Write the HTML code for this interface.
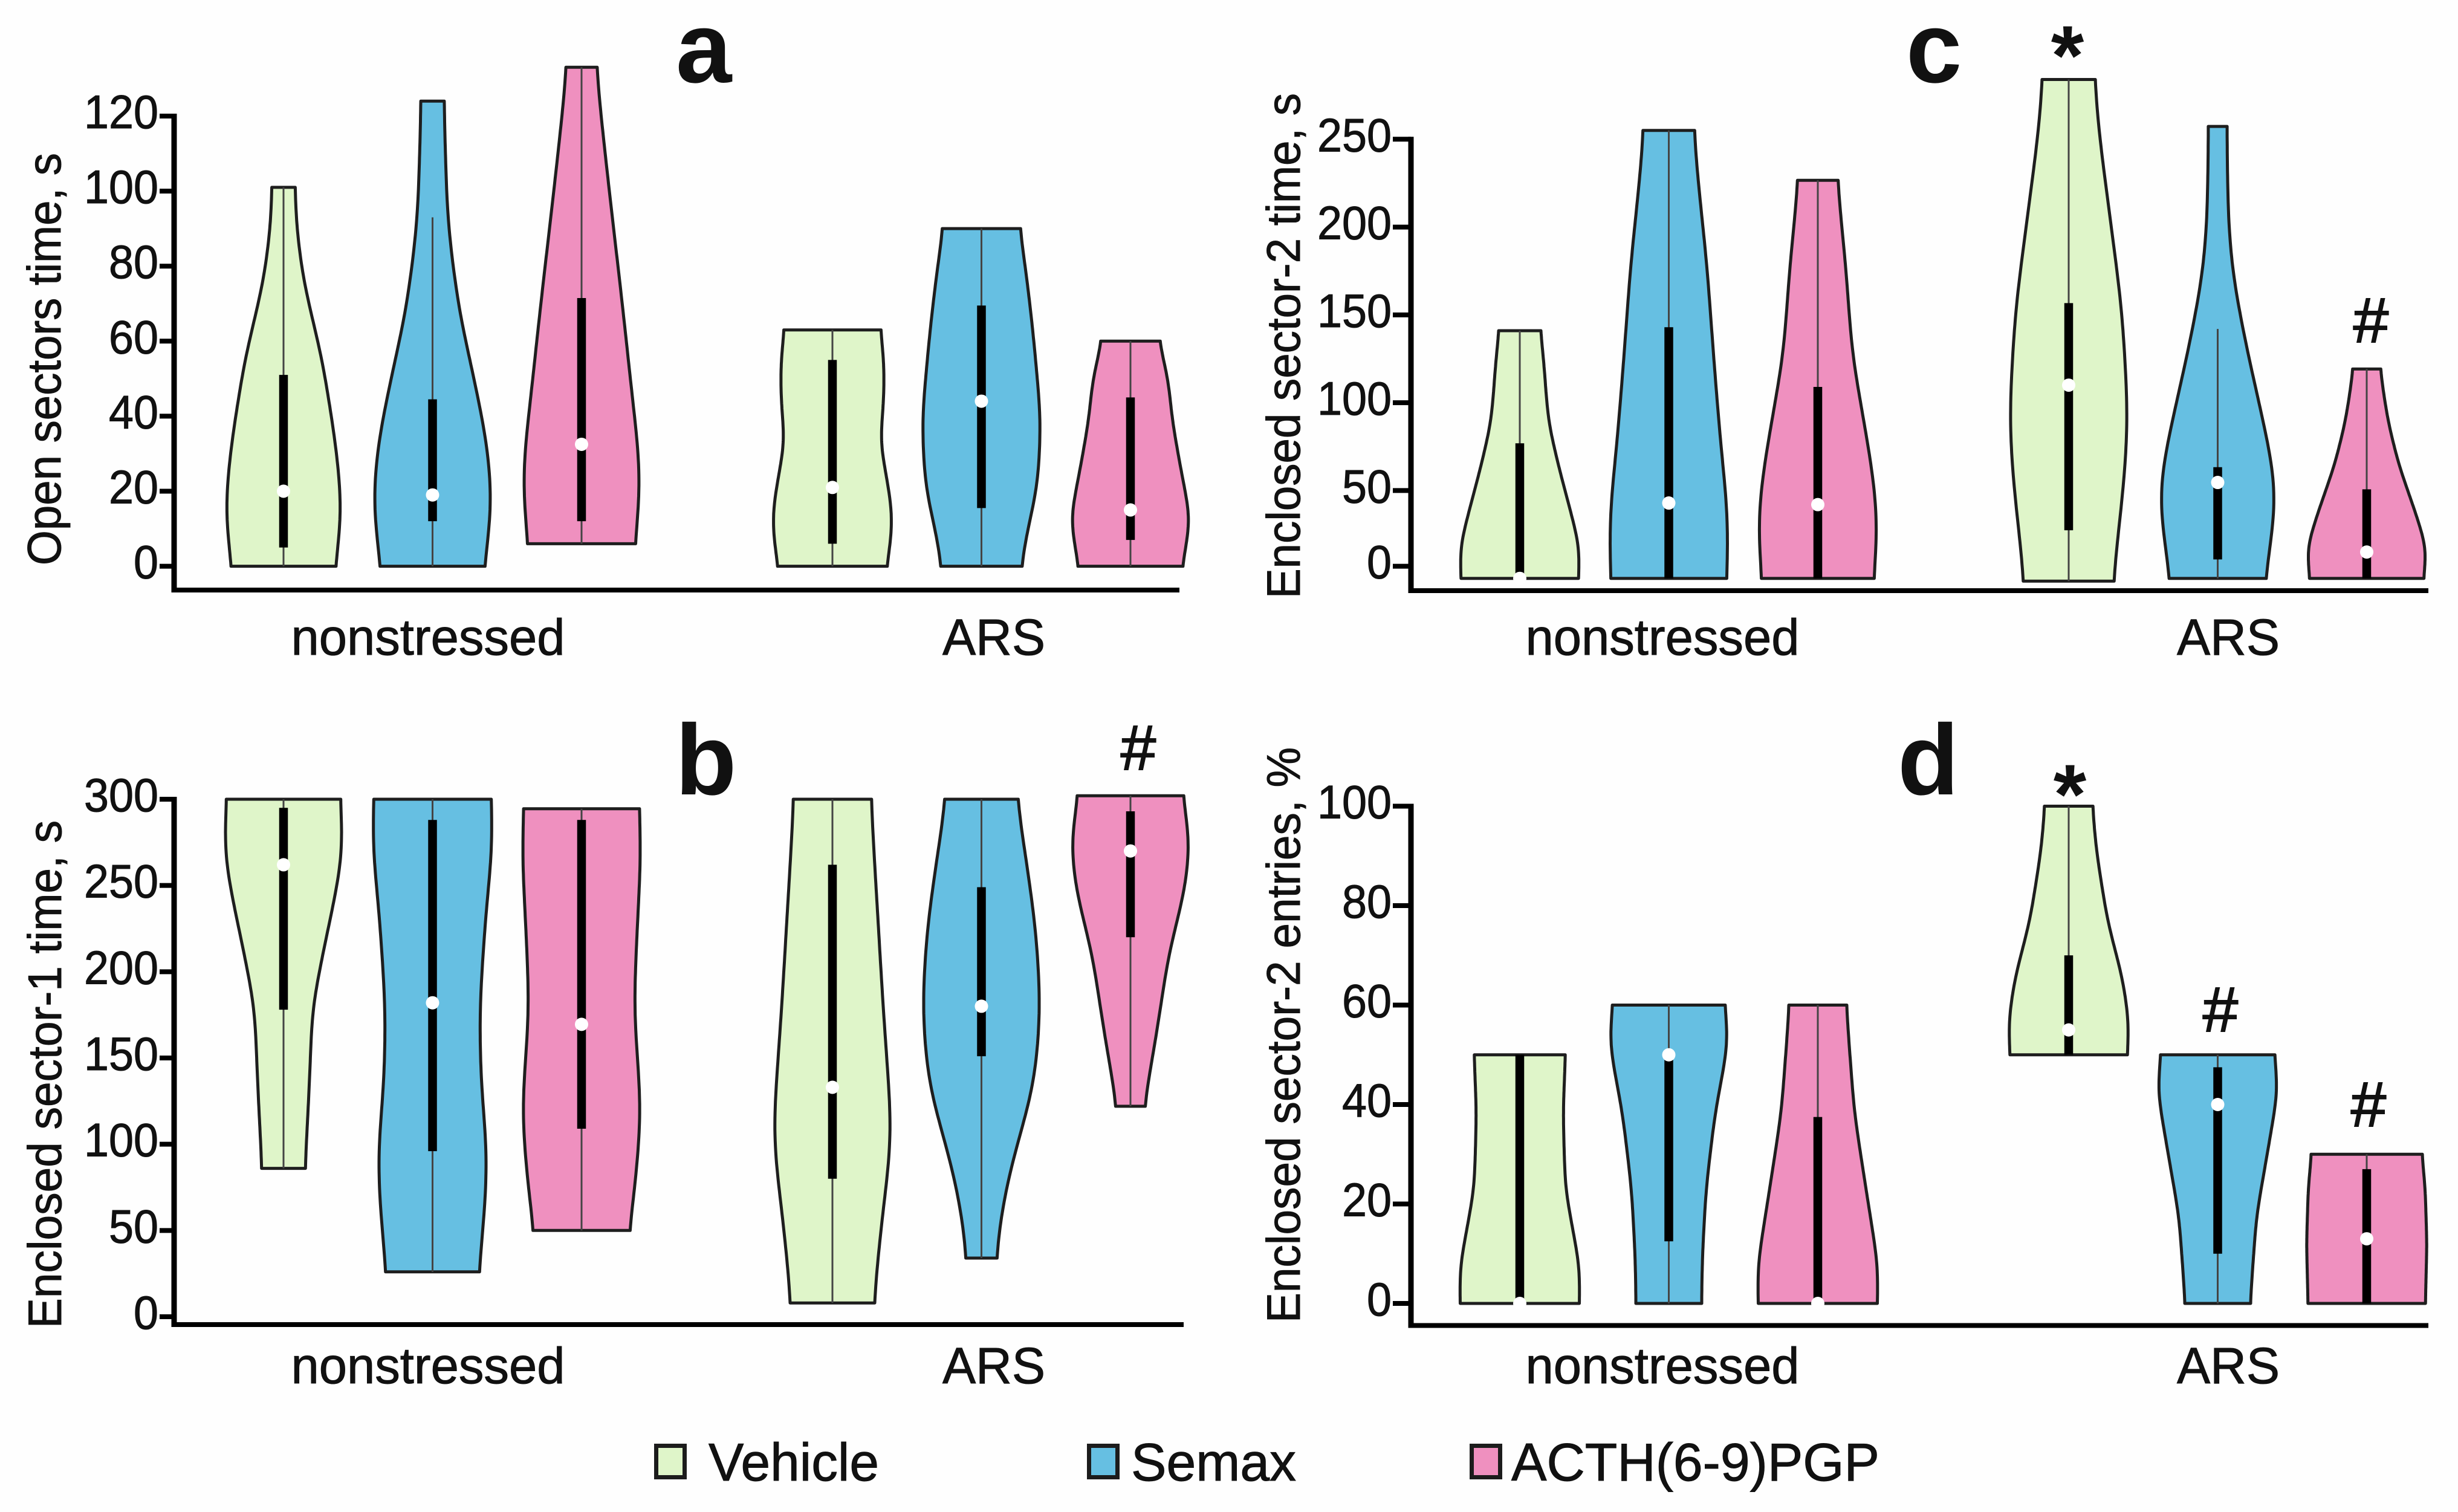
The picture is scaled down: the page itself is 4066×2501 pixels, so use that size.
<!DOCTYPE html>
<html lang="en">
<head>
<meta charset="utf-8">
<title>Violin plots</title>
<style>
html,body{margin:0;padding:0;background:#fefefe;}
svg{display:block;font-family:"Liberation Sans",sans-serif;fill:#111;}
</style>
</head>
<body>
<svg id="chart" xmlns="http://www.w3.org/2000/svg" width="4066" height="2501" viewBox="0 0 4066 2501">
  <rect width="4066" height="2501" fill="#fefefe"/>

  <text x="1118" y="136" font-size="166" font-weight="bold">a</text>
  <text x="1117" y="1314" font-size="166" font-weight="bold">b</text>
  <text x="3153" y="136" font-size="166" font-weight="bold">c</text>
  <text x="3139" y="1314" font-size="166" font-weight="bold">d</text>

  <text transform="translate(100 935) rotate(-90)" font-size="78" textLength="682" lengthAdjust="spacingAndGlyphs" stroke="#111" stroke-width="1">Open sectors time, s</text>
  <text transform="translate(101 2197) rotate(-90)" font-size="78" textLength="840" lengthAdjust="spacingAndGlyphs" stroke="#111" stroke-width="1">Enclosed sector-1 time, s</text>
  <text transform="translate(2150 990) rotate(-90)" font-size="78" textLength="836" lengthAdjust="spacingAndGlyphs" stroke="#111" stroke-width="1">Enclosed sector-2 time, s</text>
  <text transform="translate(2150 2188) rotate(-90)" font-size="78" textLength="952" lengthAdjust="spacingAndGlyphs" stroke="#111" stroke-width="1">Enclosed sector-2 entries, %</text>

  <text x="3420" y="140" font-size="140" font-weight="bold" text-anchor="middle">*</text>
  <text x="3424" y="1362" font-size="140" font-weight="bold" text-anchor="middle">*</text>
  <text x="3922" y="566" font-size="105" text-anchor="middle" stroke="#111" stroke-width="2">#</text>
  <text x="1883" y="1273" font-size="105" text-anchor="middle" stroke="#111" stroke-width="2">#</text>
  <text x="3673" y="1706" font-size="105" text-anchor="middle" stroke="#111" stroke-width="2">#</text>
  <text x="3918" y="1863" font-size="105" text-anchor="middle" stroke="#111" stroke-width="2">#</text>

  <g>
    <g>
      <rect x="1085.5" y="2391.5" width="47" height="52" fill="#dff5c9" stroke="#1c1c1c" stroke-width="7"/>
      <text x="1172" y="2449" font-size="88" textLength="282" lengthAdjust="spacingAndGlyphs" stroke="#111" stroke-width="1">Vehicle</text>
    </g>
    <g>
      <rect x="1801.5" y="2391.5" width="47" height="52" fill="#66bfe2" stroke="#1c1c1c" stroke-width="7"/>
      <text x="1871" y="2449" font-size="88" textLength="273" lengthAdjust="spacingAndGlyphs" stroke="#111" stroke-width="1">Semax</text>
    </g>
    <g>
      <rect x="2434.5" y="2391.5" width="47" height="52" fill="#ef90bf" stroke="#1c1c1c" stroke-width="7"/>
      <text x="2500" y="2449" font-size="88" textLength="609" lengthAdjust="spacingAndGlyphs" stroke="#111" stroke-width="1">ACTH(6-9)PGP</text>
    </g>
  </g>
</svg>
<script>
// Shared categories
const groupLabels = ['nonstressed', 'ARS'];
const seriesNames = ['vehicle', 'semax', 'acth'];
const seriesColors = ['#dff5c9', '#66bfe2', '#ef90bf'];

// Panel a: Open sectors time, s
const aTicks = [0, 20, 40, 60, 80, 100, 120];
const aLevels = [
  [101, 90, 75, 56, 33, 17, 8, 0],
  [124, 92, 68, 50, 33, 18.5, 9, 0],
  [133, 104, 68, 44.5, 27, 17, 6],
  [63, 55, 45, 33, 22, 14, 6, 0],
  [90, 80, 62, 39, 21, 9, 0],
  [60, 50, 39, 27, 13, 5.5, 0]
];
const aDensity = [
  [15, 17, 27, 50, 68, 76, 74, 67],
  [15, 20, 35, 55, 72, 79, 76, 67],
  [20, 35, 55, 67, 77, 77, 69],
  [62, 67, 67, 62, 72, 78, 76, 70],
  [50, 58, 68, 78, 74, 60, 52],
  [38, 50, 55, 65, 78, 73, 67]
];
const aQ1 = [5, 12, 12, 6, 15.5, 7];
const aMedian = [20, 19, 32.5, 21, 44, 15];
const aQ3 = [51, 44.5, 71.5, 55, 69.5, 45];
const aWhiskerLow = [0, 0, 6, 0, 0, 0];
const aWhiskerHigh = [101, 93, 133, 63, 90, 60];

// Panel b: Enclosed sector-1 time, s
const bTicks = [0, 50, 100, 150, 200, 250, 300];
const bLevels = [
  [300, 270, 240, 224, 179, 149, 119, 86],
  [300, 276, 240, 179, 134, 95, 58, 26],
  [294.5, 270, 224.5, 179, 119, 73, 50],
  [300, 240, 179, 104, 58, 8],
  [300, 270, 224.5, 179, 134, 88.5, 58, 34],
  [302, 276, 249, 209, 164, 122]
];
const bDensity = [
  [73, 77, 65, 57, 37, 35, 32, 28],
  [75, 79, 70, 61, 63, 72, 68, 60],
  [74, 77, 72, 68, 78, 70, 62],
  [50, 58, 66, 78, 65, 54],
  [47, 58, 72, 78, 70, 40, 26, 20],
  [68, 78, 72, 50, 35, 19]
];
const bQ1 = [178, 96, 109, 80, 151, 220];
const bMedian = [262, 182, 169.5, 133, 180, 270];
const bQ3 = [295, 288, 288, 262, 249, 293];
const bWhiskerLow = [86, 26, 50, 8, 34, 122];
const bWhiskerHigh = [300, 300, 294.5, 300, 300, 302];

// Panel c: Enclosed sector-2 time, s
const cTicks = [0, 50, 100, 150, 200, 250];
const cLevels = [
  [141, 127.5, 89.6, 64.3, 39, 16.7, 0],
  [255, 228.6, 178, 127.5, 76.9, 39, 18.6, 0],
  [226.6, 178, 127.5, 76.9, 51.7, 26.4, 0],
  [284, 254, 203.3, 152.8, 89.6, 51.7, -1.6],
  [257.3, 203.3, 172.2, 127.5, 89.6, 51.7, 26.4, 0],
  [119.2, 89.6, 64.3, 39, 16.7, 0]
];
const cDensity = [
  [27, 31, 37, 50, 65, 78, 75],
  [33, 38, 50, 58, 67, 76, 77, 74],
  [26, 37, 45, 65, 74, 78, 72],
  [34, 40, 55, 70, 78, 72, 58],
  [12, 14, 20, 40, 60, 78, 73, 62],
  [18, 28, 42, 62, 78, 73]
];
const cQ1 = [0, 0, 0, 27.4, 10.8, 0];
const cMedian = [0, 42.9, 42, 110, 54.6, 15];
const cQ3 = [76.9, 143, 109, 156.7, 63.3, 50.7];
const cWhiskerLow = [0, 0, 0, -1.6, 0, 0];
const cWhiskerHigh = [141, 255, 226.6, 284, 142, 119.2];

// Panel d: Enclosed sector-2 entries, %
const dTicks = [0, 20, 40, 60, 80, 100];
const dLevels = [
  [50, 38.5, 23, 7, 0],
  [60, 53, 38.5, 23, 9, 0],
  [60, 38.5, 23, 7, 0],
  [100, 91, 77, 65, 56, 50],
  [50, 43, 31, 17.5, 0],
  [30, 23, 12, 0]
];
const dDensity = [
  [58, 55, 58, 77, 76],
  [72, 78, 60, 48, 43, 42],
  [37, 47, 62, 78, 76],
  [31, 36, 50, 70, 78, 75],
  [73, 78, 65, 50, 42],
  [71, 75, 77, 75]
];
const dQ1 = [0, 12.5, 0, 50, 10, 0];
const dMedian = [0, 50, 0, 55, 40, 13];
const dQ3 = [50, 50, 37.5, 70, 47.5, 27];
const dWhiskerLow = [0, 0, 0, 50, 0, 0];
const dWhiskerHigh = [50, 60, 60, 100, 50, 30];

const NS = 'http://www.w3.org/2000/svg';
const INK = '#1e1e1e';
const svg = document.getElementById('chart');

const panels = [
  { id: 'a', ticks: aTicks, levels: aLevels, density: aDensity, q1: aQ1, median: aMedian, q3: aQ3, low: aWhiskerLow, high: aWhiskerHigh,
    axisX: 288, axisEnd: 1951, axisY: 976, y0: 936.6, yMax: 192, vMax: 120, first: 469, tickEnd: 259, labelBase: 1083, labelNs: 708, labelArs: 1644 },
  { id: 'b', ticks: bTicks, levels: bLevels, density: bDensity, q1: bQ1, median: bMedian, q3: bQ3, low: bWhiskerLow, high: bWhiskerHigh,
    axisX: 288, axisEnd: 1958, axisY: 2191, y0: 2178, yMax: 1322, vMax: 300, first: 469, tickEnd: 259, labelBase: 2288, labelNs: 708, labelArs: 1644 },
  { id: 'c', ticks: cTicks, levels: cLevels, density: cDensity, q1: cQ1, median: cMedian, q3: cQ3, low: cWhiskerLow, high: cWhiskerHigh,
    axisX: 2334, axisEnd: 4017, axisY: 977, y0: 956.7, yMax: 230.3, vMax: 250, zeroTickY: 936.6, first: 2514, tickEnd: 2299, labelBase: 1083, labelNs: 2750, labelArs: 3686 },
  { id: 'd', ticks: dTicks, levels: dLevels, density: dDensity, q1: dQ1, median: dMedian, q3: dQ3, low: dWhiskerLow, high: dWhiskerHigh,
    axisX: 2334, axisEnd: 4017, axisY: 2192.5, y0: 2156, yMax: 1333.5, vMax: 100, first: 2514, tickEnd: 2299, labelBase: 2288, labelNs: 2750, labelArs: 3686 }
];

function make(tag, attrs, parent) {
  const el = document.createElementNS(NS, tag);
  for (const k in attrs) el.setAttribute(k, attrs[k]);
  parent.appendChild(el);
  return el;
}

// Resample a violin profile along the value axis and apply a kernel smooth,
// keeping the read end widths unchanged.
function smoothProfile(levels, density) {
  const n = 90;
  const top = levels[0], bottom = levels[levels.length - 1];
  const vals = [], raw = [];
  for (let i = 0; i <= n; i++) {
    const v = top + (bottom - top) * i / n;
    let k = 0;
    while (k < levels.length - 2 && v < levels[k + 1]) k++;
    const t = (levels[k] - v) / (levels[k] - levels[k + 1]);
    vals.push(v);
    raw.push(density[k] + (density[k + 1] - density[k]) * t);
  }
  const sigma = n * 0.065;
  const out = raw.map((_, i) => {
    let sum = 0, wsum = 0;
    for (let j = -20; j <= 20; j++) {
      const idx = Math.min(n, Math.max(0, i + j));
      const w = Math.exp(-j * j / (2 * sigma * sigma));
      sum += raw[idx] * w;
      wsum += w;
    }
    return sum / wsum;
  });
  const e0 = raw[0] - out[0], e1 = raw[n] - out[n];
  return vals.map((v, i) => [v, out[i] + e0 * (1 - i / n) + e1 * (i / n)]);
}

function drawPanel(p) {
  const panel = make('g', {}, svg);
  
  

  const yScale = v => p.y0 - (v / p.vMax) * (p.y0 - p.yMax);
  const tickY = t => (t === 0 && p.zeroTickY !== undefined) ? p.zeroTickY : yScale(t);
  const xScale = i => p.first + (i % 3) * 246.5 + (i >= 3 ? 908 : 0);
  const widthScale = d => d * 1.2966;

  // Violins
  p.levels.forEach((lv, i) => {
    const cx = xScale(i);
    const series = seriesNames[i % 3];
    const group = groupLabels[i >= 3 ? 1 : 0];
    const g = make('g', {}, panel);
    
    

    const prof = smoothProfile(lv, p.density[i]);
    const right = prof.map(q => (cx + widthScale(q[1])).toFixed(1) + ' ' + yScale(q[0]).toFixed(1));
    const left = prof.map(q => (cx - widthScale(q[1])).toFixed(1) + ' ' + yScale(q[0]).toFixed(1)).reverse();
    const d = 'M' + right.join(' L') + ' L' + left.join(' L') + ' Z';
    const body = make('path', { d: d, fill: seriesColors[i % 3], stroke: INK, 'stroke-width': 5, 'stroke-linejoin': 'round' }, g);
    
    

    const whisker = make('line', { x1: cx, x2: cx, y1: yScale(p.low[i]), y2: yScale(p.high[i]), stroke: '#444', 'stroke-width': 3 }, g);
    
    

    const box = make('line', { x1: cx, x2: cx, y1: yScale(p.q1[i]), y2: yScale(p.q3[i]), stroke: '#000', 'stroke-width': 14.5 }, g);
    
    

    const dot = make('circle', { cx: cx, cy: yScale(p.median[i]), r: 11, fill: '#fff' }, g);
    
    
  });

  // Axes
  const yAxis = make('line', { x1: p.axisX, x2: p.axisX, y1: tickY(p.ticks[p.ticks.length - 1]) - 4, y2: p.axisY + 4, stroke: '#000', 'stroke-width': 9 }, panel);
  
  

  const xAxis = make('line', { x1: p.axisX - 4, x2: p.axisEnd, y1: p.axisY, y2: p.axisY, stroke: '#000', 'stroke-width': 8 }, panel);
  
  

  p.ticks.forEach(t => {
    const y = tickY(t);
    const tick = make('line', { x1: p.tickEnd + 5, x2: p.axisX, y1: y, y2: y, stroke: '#000', 'stroke-width': 8 }, panel);
    
    

    const txt = String(t);
    const label = make('text', { x: p.tickEnd + 3, y: y + 20, 'font-size': 78, 'text-anchor': 'end', textLength: txt.length * 41, lengthAdjust: 'spacingAndGlyphs', stroke: '#111', 'stroke-width': 1 }, panel);
    
    
    label.textContent = txt;
  });

  // Group labels
  const ns = make('text', { x: p.labelNs, y: p.labelBase, 'font-size': 84, 'text-anchor': 'middle', textLength: 453, lengthAdjust: 'spacingAndGlyphs', stroke: '#111', 'stroke-width': 1 }, panel);
  
  
  ns.textContent = groupLabels[0];

  const ars = make('text', { x: p.labelArs, y: p.labelBase, 'font-size': 84, 'text-anchor': 'middle', textLength: 170, lengthAdjust: 'spacingAndGlyphs', stroke: '#111', 'stroke-width': 1 }, panel);
  
  
  ars.textContent = groupLabels[1];
}

panels.forEach(drawPanel);
</script>
</body>
</html>
